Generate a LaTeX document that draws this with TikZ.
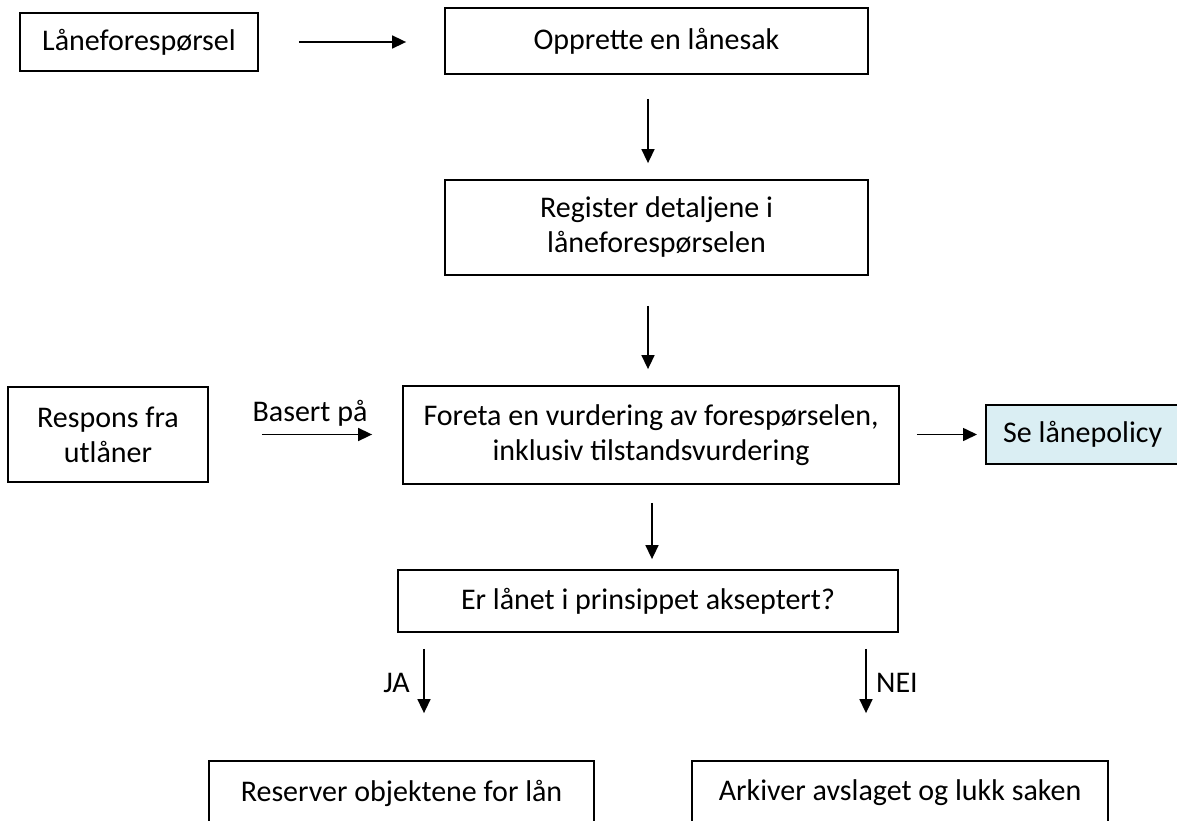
\documentclass[tikz,border=0pt]{standalone}
\usepackage{fontspec}
\setmainfont{Carlito}
\usetikzlibrary{arrows.meta,calc}
\definecolor{policyfill}{HTML}{DAEEF3}
\tikzset{
  box/.style={draw=black, line width=1.8pt, rectangle, inner sep=0pt, align=center,
              font=\fontsize{30}{35}\selectfont},
  lbl/.style={inner sep=0pt, font=\fontsize{30}{35}\selectfont},
  arr/.style={line width=1.6pt, -{Triangle[length=14pt,width=13pt]}},
}
\begin{document}
\begin{tikzpicture}[x=1pt,y=-1pt]
\useasboundingbox (0,0) rectangle (1177,821);

% process boxes
\node[box, minimum width=238pt, minimum height=58pt] (req)  at (139,42)    {Låneforespørsel};
\node[box, minimum width=423pt, minimum height=66pt] (case) at (656.5,41)  {Opprette en lånesak};
\node[box, minimum width=423pt, minimum height=95pt] (reg)  at (656.5,227.5) {Register detaljene i\\låneforespørselen};
\node[box, minimum width=496pt, minimum height=98pt] (eval) at (651,435)   {Foreta en vurdering av forespørselen,\\inklusiv tilstandsvurdering};
\node[box, minimum width=200pt, minimum height=95pt] (resp) at (108,434.5) {Respons fra\\utlåner};
\node[box, fill=policyfill, minimum width=215pt, minimum height=59pt, anchor=west] (pol) at (985,434.5) {};
\node[lbl, anchor=west] (poltxt) at (1003,434.5) {Se lånepolicy};
\node[box, minimum width=500pt, minimum height=62pt] (acc)  at (648,601)   {Er lånet i prinsippet akseptert?};
\node[box, minimum width=385pt, minimum height=64pt] (res)  at (401.5,793) {Reserver objektene for lån};
\node[box, minimum width=416pt, minimum height=64pt] (arch) at (900,793)   {Arkiver avslaget og lukk saken};

% connectors
\draw[arr, shorten <=40pt, shorten >=38pt] (req.east) -- (req.east -| case.west);
\draw[arr, shorten <=24pt, shorten >=16pt] ([xshift=-8.5pt]case.south) -- ([xshift=-8.5pt]case.south |- reg.north);
\draw[arr, shorten <=30pt, shorten >=16pt] ([xshift=-8.5pt]reg.south) -- ([xshift=-8.5pt]reg.south |- eval.north);
\draw[arr, shorten <=53pt, shorten >=30pt] (resp.east) -- (resp.east -| eval.west);
\draw[arr, shorten <=17pt, shorten >=8pt] (eval.east |- pol.west) -- (pol.west);
\draw[arr, shorten <=18pt, shorten >=10pt] ([xshift=1pt]eval.south) -- ([xshift=1pt]eval.south |- acc.north);
\draw[arr, shorten <=16pt, shorten >=47pt] ([xshift=-224pt]acc.south) -- ([xshift=-224pt]acc.south |- res.north);
\draw[arr, shorten <=16pt, shorten >=47pt] ([xshift=218pt]acc.south) -- ([xshift=218pt]acc.south |- arch.north);

% connector labels
\node[lbl, anchor=base] (based) at (310,421) {Basert på};
\node[lbl, anchor=base east] (yes) at (410,692) {JA};
\node[lbl, anchor=base west] (no) at (876,692) {NEI};
\end{tikzpicture}
\end{document}
